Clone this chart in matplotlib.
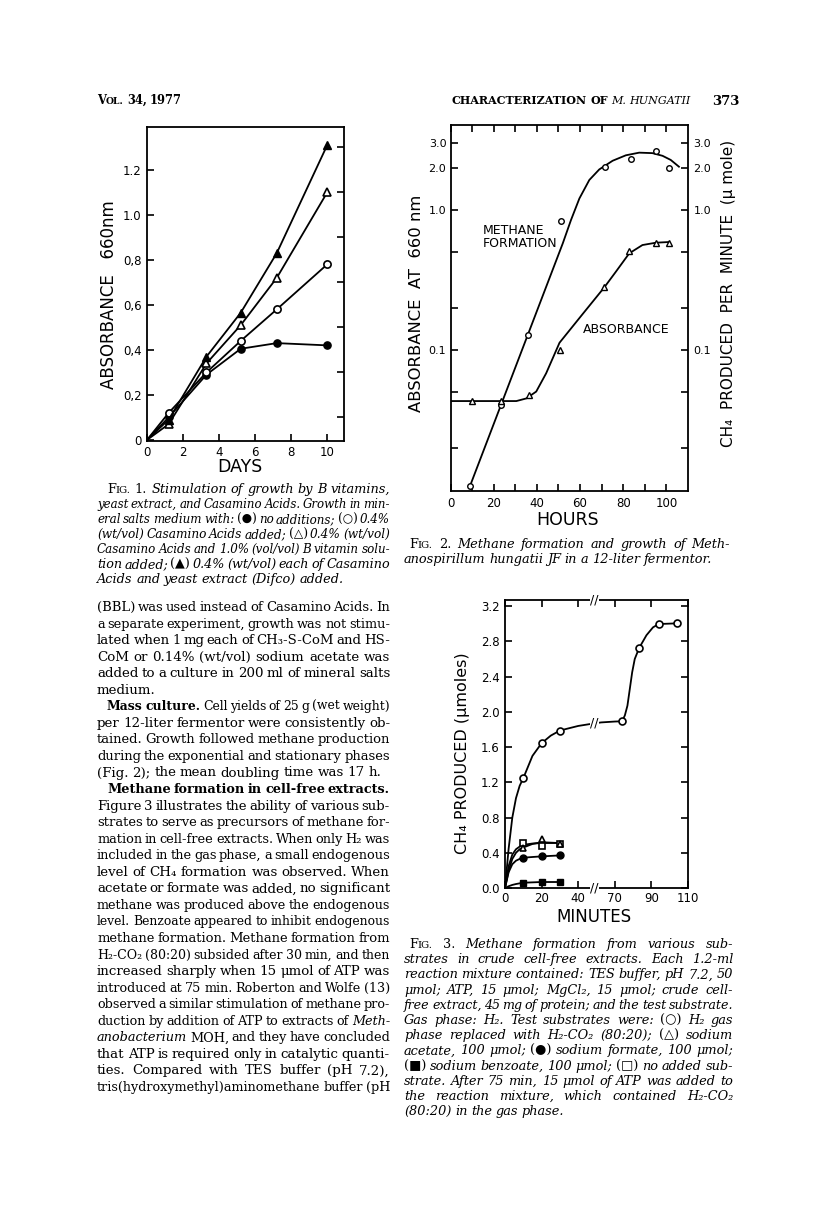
import matplotlib
matplotlib.use('Agg')
import matplotlib.pyplot as plt
import numpy as np
from matplotlib.ticker import FixedLocator, FixedFormatter, NullFormatter
from matplotlib.transforms import IdentityTransform, blended_transform_factory

W, H, DPI = 816, 1211, 100
SANS = ['DejaVu Sans']
SERIF = ['DejaVu Serif', 'DejaVu Sans']

# ---------------- data: Fig. 1 ----------------
fig1_days = [0, 1.2, 3.3, 5.2, 7.2, 10.0]
fig1_no_additions = [0, 0.10, 0.29, 0.405, 0.43, 0.42]
fig1_casamino = [0, 0.12, 0.30, 0.44, 0.58, 0.78]
fig1_casamino_vitamins = [0, 0.07, 0.34, 0.51, 0.72, 1.10]
fig1_casamino_yeast = [0, 0.09, 0.37, 0.565, 0.83, 1.31]
fig1_yticks = [0, 0.2, 0.4, 0.6, 0.8, 1.0, 1.2]
fig1_ylabels = ['0', '0,2', '0,4', '0,6', '0,8', '1.0', '1.2']
fig1_xticks = [0, 2, 4, 6, 8, 10]

# ---------------- data: Fig. 2 ----------------
fig2_hours = [9, 23.5, 36, 51, 71.5, 83.5, 95, 101]
fig2_methane = [0.0106, 0.0405, 0.128, 0.835, 2.04, 2.31, 2.65, 2.0]
fig2_absorb_hours = [10, 23.5, 36.5, 50.5, 71.2, 82.8, 95, 101]
fig2_absorbance = [0.0432, 0.0432, 0.0477, 0.1, 0.280, 0.509, 0.578, 0.584]
# hand-drawn fitted curves
fig2_methane_curve_h = [8.9, 52.0, 55.8, 59.7, 64.3, 68.9, 75.1, 81.2, 87.4, 93.5, 98.2, 102, 105.8]
fig2_methane_curve_v = [0.01055, 0.578, 0.848, 1.21, 1.64, 1.95, 2.25, 2.46, 2.57, 2.55, 2.44, 2.28, 2.04]
fig2_absorb_curve_h = [0, 30.5, 35.1, 39.7, 44.3, 50.5, 61.2, 71.2, 76.6, 82.8, 88.9, 95.1, 101.2]
fig2_absorb_curve_v = [0.0432, 0.0432, 0.0451, 0.0505, 0.0682, 0.1128, 0.1807, 0.2799, 0.3627, 0.4907, 0.5623, 0.5843, 0.5909]
fig2_yticks = [0.1, 1.0, 2.0, 3.0]
fig2_ylabels = ['0.1', '1.0', '2.0', '3.0']
fig2_xticks = [0, 20, 40, 60, 80, 100]

# ---------------- data: Fig. 3 ----------------
fig3_h2co2_min = [10, 20, 30, 74, 83, 94, 104]
fig3_h2co2 = [1.247, 1.644, 1.788, 1.893, 2.725, 2.997, 3.005]
fig3_short_min = [10, 20, 30]
fig3_acetate = [0.454, 0.552, 0.503]
fig3_formate = [0.344, 0.359, 0.370]
fig3_benzoate = [0.060, 0.068, 0.068]
fig3_none = [0.510, 0.476, 0.503]
# hand-drawn curves
fig3_h2co2_curve_x = [0, 2, 4, 6, 8, 10, 15, 20, 25, 30, 40, 50, 60, 70, 74, 75.5, 76.9, 78.2, 79.5, 80.9, 83.3, 87.3, 90.9, 94, 104]
fig3_h2co2_curve_y = [0, 0.45, 0.80, 1.02, 1.16, 1.247, 1.50, 1.644, 1.73, 1.788, 1.84, 1.865, 1.88, 1.89, 1.893, 1.96, 2.07, 2.26, 2.45, 2.60, 2.725, 2.87, 2.96, 2.997, 3.005]
fig3_short_curve_x = [0, 2, 4, 6, 8, 10, 15, 20, 30]
fig3_none_curve = [0, 0.25, 0.38, 0.44, 0.47, 0.49, 0.505, 0.51, 0.512]
fig3_acetate_curve = [0, 0.20, 0.33, 0.40, 0.44, 0.46, 0.50, 0.52, 0.51]
fig3_formate_curve = [0, 0.18, 0.27, 0.31, 0.33, 0.344, 0.352, 0.359, 0.370]
fig3_benzoate_curve = [0, 0.02, 0.035, 0.045, 0.053, 0.060, 0.064, 0.068, 0.068]
fig3_yticks = [0.0, 0.4, 0.8, 1.2, 1.6, 2.0, 2.4, 2.8, 3.2]
fig3_ylabels = ['0.0', '0.4', '0.8', '1.2', '1.6', '2.0', '2.4', '2.8', '3.2']
fig3_xticks = [0, 20, 40, 70, 90, 110]
fig3_xlabels = ['0', '20', '40', '70', '90', '110']
BREAK_LO, BREAK_HI, GAP = 45.0, 65.0, 10.0
BREAK_MARK = 53.0

fig = plt.figure(figsize=(W / DPI, H / DPI), dpi=DPI)
fig.patch.set_facecolor('white')


def rect(l, t, r, b):
    return [l / W, 1 - b / H, (r - l) / W, (b - t) / H]


def style_axes(ax, lw=1.3):
    for s in ax.spines.values():
        s.set_linewidth(lw)
        s.set_color('black')


def page_label(x, y, s, size, rot=0):
    fig.text(x / W, 1 - y / H, s, fontsize=size, family=SANS, rotation=rot,
             ha='center', va='center')


LINE = dict(color='black', lw=1.3)

# ================= Fig. 1 =================
ax1 = fig.add_axes(rect(147, 127, 343.5, 441.5))
style_axes(ax1)
ms1 = 5.2
ax1.plot(fig1_days, fig1_no_additions, marker='o', ms=ms1, mfc='black', mec='black', markevery=slice(1, None), **LINE)
ax1.plot(fig1_days, fig1_casamino, marker='o', ms=ms1, mfc='white', mec='black', mew=1.2, markevery=slice(1, None), **LINE)
ax1.plot(fig1_days, fig1_casamino_vitamins, marker='^', ms=ms1 + 0.6, mfc='white', mec='black', mew=1.2, markevery=slice(1, None), **LINE)
ax1.plot(fig1_days, fig1_casamino_yeast, marker='^', ms=ms1 + 0.6, mfc='black', mec='black', markevery=slice(1, None), **LINE)
ax1.set_xlim(0, 10.9)
ax1.set_ylim(-0.007, 1.39)
ax1.xaxis.set_major_locator(FixedLocator(fig1_xticks))
ax1.set_xticklabels([str(v) for v in fig1_xticks])
ax1.yaxis.set_major_locator(FixedLocator(fig1_yticks))
ax1.yaxis.set_major_formatter(FixedFormatter(fig1_ylabels))
ax1.tick_params(axis='both', direction='in', length=5, width=1.2, labelsize=8.5, pad=4)
ax1.tick_params(axis='x', pad=3)
for lab in ax1.get_xticklabels() + ax1.get_yticklabels():
    lab.set_family(SANS)
ax1r = ax1.twinx()
ax1r.set_ylim(ax1.get_ylim())
ax1r.yaxis.set_major_locator(FixedLocator([0.1, 0.3, 0.5, 0.7, 0.9, 1.1, 1.3]))
ax1r.yaxis.set_major_formatter(NullFormatter())
ax1r.tick_params(axis='y', direction='in', length=5, width=1.2)
for s in ax1r.spines.values():
    s.set_visible(False)
page_label(240, 467, 'DAYS', 12.5)
page_label(109, 295, 'ABSORBANCE   660nm', 12, rot=90)

# ================= Fig. 2 =================
ax2 = fig.add_axes(rect(450.5, 125, 688, 491))
style_axes(ax2)
ax2.set_yscale('log')
ax2.set_xlim(0, 110)
ax2.set_ylim(0.00984, 4.05)
ax2.plot(fig2_methane_curve_h, fig2_methane_curve_v, **LINE)
ax2.plot(fig2_absorb_curve_h, fig2_absorb_curve_v, **LINE)
ax2.plot(fig2_hours, fig2_methane, ls='none', marker='o', ms=4, mfc='white', mec='black', mew=1.0)
ax2.plot(fig2_absorb_hours, fig2_absorbance, ls='none', marker='^', ms=3.8, mfc='white', mec='black', mew=1.0)
ax2.xaxis.set_major_locator(FixedLocator(fig2_xticks))
ax2.xaxis.set_minor_locator(FixedLocator([10, 30, 50, 70, 90]))
ax2.set_xticklabels([str(v) for v in fig2_xticks])
ax2.yaxis.set_major_locator(FixedLocator(fig2_yticks))
ax2.yaxis.set_major_formatter(FixedFormatter(fig2_ylabels))
ax2.yaxis.set_minor_locator(FixedLocator([0.02, 0.05, 0.2, 0.5]))
ax2.yaxis.set_minor_formatter(NullFormatter())
ax2.tick_params(axis='both', which='both', direction='in', top=True, labelsize=8.5, width=1.2, length=5)
ax2.tick_params(axis='y', pad=3, labelsize=8)
ax2.tick_params(axis='x', pad=4)
for lab in ax2.get_xticklabels() + ax2.get_yticklabels():
    lab.set_family(SANS)
ax2r = ax2.twinx()
ax2r.set_yscale('log')
ax2r.set_ylim(ax2.get_ylim())
ax2r.yaxis.set_major_locator(FixedLocator(fig2_yticks))
ax2r.yaxis.set_major_formatter(FixedFormatter(fig2_ylabels))
ax2r.yaxis.set_minor_locator(FixedLocator([0.02, 0.05, 0.2, 0.5]))
ax2r.yaxis.set_minor_formatter(NullFormatter())
ax2r.tick_params(axis='y', which='both', direction='in', length=5, width=1.2, labelsize=8, pad=4)
for lab in ax2r.get_yticklabels():
    lab.set_family(SANS)
for s in ax2r.spines.values():
    s.set_visible(False)
page_label(568, 520, 'HOURS', 12.5)
page_label(416.5, 303, 'ABSORBANCE  AT  660 nm', 11.8, rot=90)
page_label(728, 293, 'CH\u2084  PRODUCED  PER  MINUTE  (\u03bc mole)', 11, rot=90)
ax2.text(15, 0.641, 'METHANE\nFORMATION', fontsize=9, family=SANS, ha='left', va='center', linespacing=1.0)
ax2.text(61.3, 0.1404, 'ABSORBANCE', fontsize=9, family=SANS, ha='left', va='center')

# ================= Fig. 3 =================
mid_slope = (BREAK_HI - GAP - BREAK_LO) / (BREAK_HI - BREAK_LO)


def fwd(x):
    x = np.asarray(x, float)
    return np.where(x <= BREAK_LO, x,
                    np.where(x >= BREAK_HI, x - GAP, BREAK_LO + (x - BREAK_LO) * mid_slope))


def inv(d):
    d = np.asarray(d, float)
    return np.where(d <= BREAK_LO, d,
                    np.where(d >= BREAK_HI - GAP, d + GAP, BREAK_LO + (d - BREAK_LO) / mid_slope))


ax3 = fig.add_axes(rect(505, 600, 688, 888))
style_axes(ax3)
ax3.set_xscale('function', functions=(fwd, inv))
ax3.set_xlim(0, 110)
ax3.set_ylim(0, 3.27)
ax3.plot(fig3_h2co2_curve_x, fig3_h2co2_curve_y, **LINE)
ax3.plot(fig3_short_curve_x, fig3_none_curve, **LINE)
ax3.plot(fig3_short_curve_x, fig3_acetate_curve, **LINE)
ax3.plot(fig3_short_curve_x, fig3_formate_curve, **LINE)
ax3.plot(fig3_short_curve_x, fig3_benzoate_curve, **LINE)
ms3 = 5.0
ax3.plot(fig3_h2co2_min, fig3_h2co2, ls='none', marker='o', ms=ms3, mfc='white', mec='black', mew=1.2)
ax3.plot(fig3_short_min, fig3_none, ls='none', marker='s', ms=ms3 - 0.4, mfc='white', mec='black', mew=1.2)
ax3.plot(fig3_short_min, fig3_acetate, ls='none', marker='^', ms=ms3, mfc='white', mec='black', mew=1.2)
ax3.plot(fig3_short_min, fig3_formate, ls='none', marker='o', ms=ms3, mfc='black', mec='black')
ax3.plot(fig3_short_min, fig3_benzoate, ls='none', marker='s', ms=ms3 - 0.4, mfc='black', mec='black')
ax3.xaxis.set_major_locator(FixedLocator(fig3_xticks))
ax3.xaxis.set_major_formatter(FixedFormatter(fig3_xlabels))
ax3.xaxis.set_minor_locator(FixedLocator([]))
ax3.yaxis.set_major_locator(FixedLocator(fig3_yticks))
ax3.yaxis.set_major_formatter(FixedFormatter(fig3_ylabels))
ax3.tick_params(axis='both', direction='in', top=True, right=True, length=5, width=1.2, labelsize=8.5)
ax3.tick_params(axis='y', pad=4)
ax3.tick_params(axis='x', pad=3)
for lab in ax3.get_xticklabels() + ax3.get_yticklabels():
    lab.set_family(SANS)
page_label(594, 917, 'MINUTES', 12)
page_label(462.5, 753, 'CH\u2084 PRODUCED (\u03bcmoles)', 11.5, rot=90)
bt = blended_transform_factory(ax3.transData, ax3.transAxes)
for yy in (0.0, 1.0):
    ax3.text(BREAK_MARK, yy, '//', transform=bt, ha='center', va='center', fontsize=9, family=SANS,
             bbox=dict(facecolor='white', edgecolor='none', pad=0.3), clip_on=False, zorder=5)
ax3.text(BREAK_MARK, float(np.interp(BREAK_MARK, fig3_h2co2_curve_x, fig3_h2co2_curve_y)), '//',
         ha='center', va='center', fontsize=9, family=SANS,
         bbox=dict(facecolor='white', edgecolor='none', pad=0.2), zorder=5)

# ================= page text =================
renderer = fig.canvas.get_renderer()
STY = {
    'r': dict(style='normal', weight='normal'),
    'i': dict(style='italic', weight='normal'),
    'b': dict(style='normal', weight='bold'),
}
TX = IdentityTransform()


def put_line(segs, x0, x1, base, size, justify=True, align='left', min_gap=2.5):
    words, cur = [], []
    for seg in segs:
        text, st = seg[0], seg[1]
        sc = seg[2] if len(seg) > 2 else 1.0
        parts = text.split(' ')
        for k, p in enumerate(parts):
            if k > 0 and cur:
                words.append(cur)
                cur = []
            if p:
                cur.append((p, st, sc))
    if cur:
        words.append(cur)
    built = []
    for w in words:
        arts = []
        for p, st, sc in w:
            t = fig.text(0, 0, p, fontsize=size * sc, family=SERIF, va='baseline', ha='left',
                         transform=TX, **STY[st])
            arts.append([t, sc, 0.0])
        built.append(arts)

    def measure():
        tot_all = []
        for arts in built:
            tot = 0.0
            for a in arts:
                a[2] = a[0].get_window_extent(renderer).width
                tot += a[2]
            tot_all.append(tot)
        return tot_all

    tots = measure()
    n = len(built)
    avail = x1 - x0
    need = sum(tots) + min_gap * max(n - 1, 0)
    if need > avail:
        f = (avail - min_gap * max(n - 1, 0)) / sum(tots)
        for arts in built:
            for a in arts:
                a[0].set_fontsize(size * a[1] * f)
        tots = measure()
    space = 0.28 * size * DPI / 72.0
    if justify and n > 1:
        gap = (avail - sum(tots)) / (n - 1)
    else:
        gap = space
    total_w = sum(tots) + gap * max(n - 1, 0)
    x = x0 if align == 'left' else x1 - total_w
    yb = H - base
    for arts, tot in zip(built, tots):
        xx = x
        for a in arts:
            a[0].set_position((xx, yb))
            xx += a[2]
        x += tot + gap


# header
put_line([("V", 'b'), ("OL.", 'b', 0.8), (" 34, 1977", 'b')], 97, 200, 104, 8.3, justify=False)
put_line([("CHARACTERIZATION OF ", 'b'), ("M. HUNGATII", 'i')], 400, 690, 104, 8.0, justify=False, align='right')
put_line([("373", 'b')], 712, 740, 105, 9.5, justify=False)

CAP_SIZE = 9.3
BODY_SIZE = 9.6
LX0, LX1 = 97, 390
RX0, RX1 = 404, 733

cap1 = [
    [("F", 'r'), ("IG.", 'r', 0.78), (" 1.", 'r'), (" Stimulation of growth by B vitamins,", 'i')],
    [("yeast extract, and Casamino Acids. Growth in min-", 'i')],
    [("eral salts medium with: ", 'i'), ("(\u25cf)", 'r'), (" no additions; ", 'i'), ("(\u25cb)", 'r'), (" 0.4%", 'i')],
    [("(wt/vol) Casamino Acids added; ", 'i'), ("(\u25b3)", 'r'), (" 0.4% (wt/vol)", 'i')],
    [("Casamino Acids and 1.0% (vol/vol) B vitamin solu-", 'i')],
    [("tion added; ", 'i'), ("(\u25b2)", 'r'), (" 0.4% (wt/vol) each of Casamino", 'i')],
    [("Acids and yeast extract (Difco) added.", 'i')],
]
for i, ln in enumerate(cap1):
    x0 = LX0 + (10 if i == 0 else 0)
    put_line(ln, x0, LX1, 493 + 15.0 * i, CAP_SIZE, justify=(i < len(cap1) - 1))

body = [
    ([("(BBL) was used instead of Casamino Acids. In", 'r')], 0, True),
    ([("a separate experiment, growth was not stimu-", 'r')], 0, True),
    ([("lated when 1 mg each of CH\u2083-S-CoM and HS-", 'r')], 0, True),
    ([("CoM or 0.14% (wt/vol) sodium acetate was", 'r')], 0, True),
    ([("added to a culture in 200 ml of mineral salts", 'r')], 0, True),
    ([("medium.", 'r')], 0, False),
    ([("Mass culture.", 'b'), (" Cell yields of 25 g (wet weight)", 'r')], 10, True),
    ([("per 12-liter fermentor were consistently ob-", 'r')], 0, True),
    ([("tained. Growth followed methane production", 'r')], 0, True),
    ([("during the exponential and stationary phases", 'r')], 0, True),
    ([("(Fig. 2); the mean doubling time was 17 h.", 'r')], 0, False),
    ([("Methane formation in cell-free extracts.", 'b')], 10, True),
    ([("Figure 3 illustrates the ability of various sub-", 'r')], 0, True),
    ([("strates to serve as precursors of methane for-", 'r')], 0, True),
    ([("mation in cell-free extracts. When only H\u2082 was", 'r')], 0, True),
    ([("included in the gas phase, a small endogenous", 'r')], 0, True),
    ([("level of CH\u2084 formation was observed. When", 'r')], 0, True),
    ([("acetate or formate was added, no significant", 'r')], 0, True),
    ([("methane was produced above the endogenous", 'r')], 0, True),
    ([("level. Benzoate appeared to inhibit endogenous", 'r')], 0, True),
    ([("methane formation. Methane formation from", 'r')], 0, True),
    ([("H\u2082-CO\u2082 (80:20) subsided after 30 min, and then", 'r')], 0, True),
    ([("increased sharply when 15 \u03bcmol of ATP was", 'r')], 0, True),
    ([("introduced at 75 min. Roberton and Wolfe (13)", 'r')], 0, True),
    ([("observed a similar stimulation of methane pro-", 'r')], 0, True),
    ([("duction by addition of ATP to extracts of ", 'r'), ("Meth-", 'i')], 0, True),
    ([("anobacterium", 'i'), (" MOH, and they have concluded", 'r')], 0, True),
    ([("that ATP is required only in catalytic quanti-", 'r')], 0, True),
    ([("ties. Compared with TES buffer (pH 7.2),", 'r')], 0, True),
    ([("tris(hydroxymethyl)aminomethane buffer (pH", 'r')], 0, True),
]
for i, (ln, ind, just) in enumerate(body):
    put_line(ln, LX0 + ind, LX1, 611 + 16.55 * i, BODY_SIZE, justify=just)

cap2 = [
    [("F", 'r'), ("IG.", 'r', 0.78), (" 2.", 'r'), (" Methane formation and growth of Meth-", 'i')],
    [("anospirillum hungatii JF in a 12-liter fermentor.", 'i')],
]
put_line(cap2[0], RX0 + 5, RX1 - 3, 548, CAP_SIZE, justify=True)
put_line(cap2[1], RX0, RX1, 563, CAP_SIZE, justify=False)

cap3 = [
    [("F", 'r'), ("IG.", 'r', 0.78), (" 3.", 'r'), (" Methane formation from various sub-", 'i')],
    [("strates in crude cell-free extracts. Each 1.2-ml", 'i')],
    [("reaction mixture contained: TES buffer, pH 7.2, 50", 'i')],
    [("\u03bcmol; ATP, 15 \u03bcmol; MgCl\u2082, 15 \u03bcmol; crude cell-", 'i')],
    [("free extract, 45 mg of protein; and the test substrate.", 'i')],
    [("Gas phase: H\u2082. Test substrates were: ", 'i'), ("(\u25cb)", 'r'), (" H\u2082 gas", 'i')],
    [("phase replaced with H\u2082-CO\u2082 (80:20); ", 'i'), ("(\u25b3)", 'r'), (" sodium", 'i')],
    [("acetate, 100 \u03bcmol; ", 'i'), ("(\u25cf)", 'r'), (" sodium formate, 100 \u03bcmol;", 'i')],
    [("(\u25a0)", 'r'), (" sodium benzoate, 100 \u03bcmol; ", 'i'), ("(\u25a1)", 'r'), (" no added sub-", 'i')],
    [("strate. After 75 min, 15 \u03bcmol of ATP was added to", 'i')],
    [("the reaction mixture, which contained H\u2082-CO\u2082", 'i')],
    [("(80:20) in the gas phase.", 'i')],
]
for i, ln in enumerate(cap3):
    x0 = RX0 + (5 if i == 0 else 0)
    put_line(ln, x0, RX1, 948 + 15.2 * i, CAP_SIZE, justify=(i < len(cap3) - 1))

fig.savefig('out.png', dpi=DPI, facecolor='white')
